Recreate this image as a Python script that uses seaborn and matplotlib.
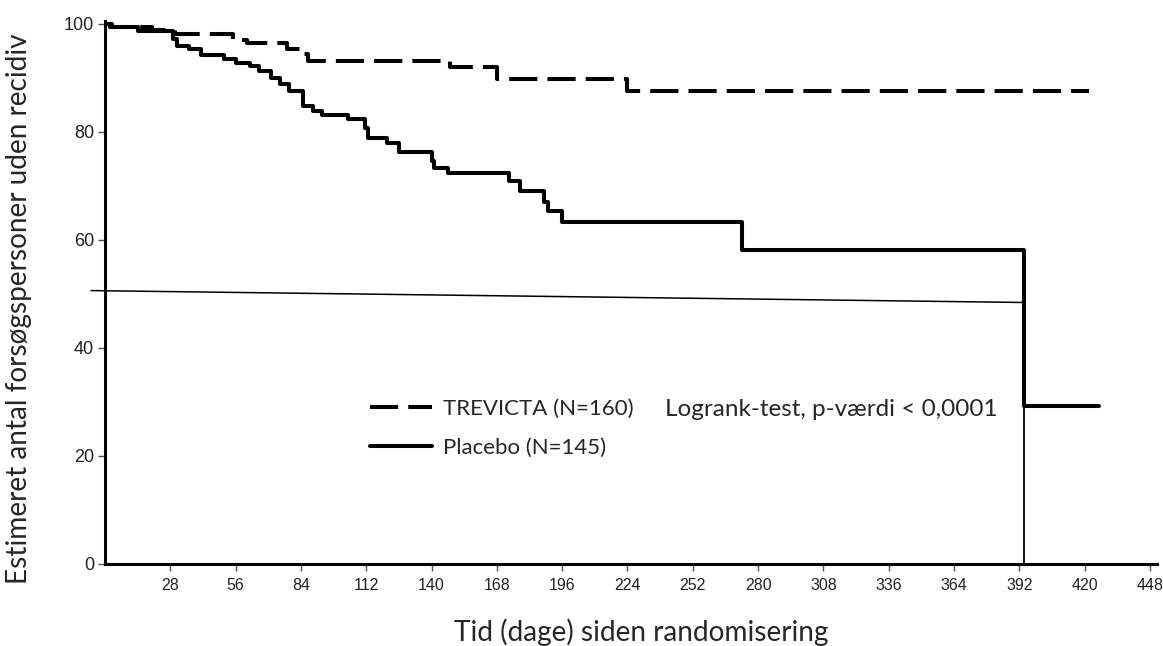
import pandas as pd
import seaborn as sns
import matplotlib.pyplot as plt
from matplotlib.lines import Line2D

# Kaplan-Meier step values
trevicta_days = [0, 2, 20, 30, 55, 61, 78, 84, 87, 148, 168, 224, 422]
trevicta_surv = [100, 99.4, 98.8, 98.1, 96.9, 96.5, 95.4, 94.4, 93.1, 91.9, 89.8, 87.6, 87.6]

placebo_days = [0, 3, 14, 29, 31, 36, 41, 51, 56, 62, 66, 71, 75, 79, 85, 89, 93, 104,
                111.4, 112.7, 121, 126, 140, 141, 147, 173, 178, 188, 190, 196, 273, 394, 426]
placebo_surv = [100, 99.4, 98.7, 97.2, 95.9, 95.4, 94.2, 93.5, 92.8, 92.2, 91.3, 90.0, 88.9,
                87.6, 84.8, 83.9, 83.1, 82.4, 80.7, 78.9, 78.0, 76.3, 74.6, 73.3, 72.4, 70.8,
                69.0, 67.0, 65.4, 63.3, 58.1, 29.2, 29.2]

# thin reference lines in the original
guide_x = [-6, 393.5]
guide_y = [50.6, 48.4]
drop_x = [394, 394]
drop_y = [0, 29.2]

x_ticks = list(range(28, 449, 28))
y_ticks = [0, 20, 40, 60, 80, 100]

arm_labels = ['TREVICTA (N=160)', 'Placebo (N=145)']

df = pd.concat([
    pd.DataFrame({'dag': trevicta_days, 'andel': trevicta_surv, 'arm': arm_labels[0]}),
    pd.DataFrame({'dag': placebo_days, 'andel': placebo_surv, 'arm': arm_labels[1]}),
])

sns.set_style('white')
plt.rcParams['font.family'] = ['Lato', 'DejaVu Sans']

fig = plt.figure(figsize=(11.63, 6.46), dpi=100)
ax = fig.add_axes([0.0903, 0.127, 0.9045, 0.8405])

dash = (7, 2.5)
dash_style = {arm_labels[0]: dash, arm_labels[1]: ''}
sns.lineplot(data=df, x='dag', y='andel', style='arm', dashes=dash_style,
             color='black', linewidth=2.9, drawstyle='steps-post',
             estimator=None, sort=False, legend=False, ax=ax)

ax.plot(guide_x, guide_y, color='black', linewidth=1.1, clip_on=False)
ax.plot(drop_x, drop_y, color='black', linewidth=1.3)

ax.set_xlim(0, 451)
ax.set_ylim(0, 100.5)
ax.set_xticks(x_ticks)
ax.set_yticks(y_ticks)
ax.set_xticklabels([str(t) for t in x_ticks], family=['Liberation Sans'], fontsize=11.5)
ax.set_yticklabels([str(t) for t in y_ticks], family=['Liberation Sans'], fontsize=13)
ax.tick_params(axis='both', direction='out', length=5, width=1, color='#555555',
               labelcolor='#222222', bottom=True, left=True)
ax.tick_params(axis='x', pad=5)
ax.tick_params(axis='y', pad=3)

sns.despine(ax=ax)
for side in ['left', 'bottom']:
    ax.spines[side].set_linewidth(2.2)
    ax.spines[side].set_color('black')

ax.set_xlabel('Tid (dage) siden randomisering', fontsize=20.2)
ax.set_ylabel('Estimeret antal forsøgspersoner uden recidiv', fontsize=20.2)
ax.xaxis.set_label_coords(0.51, -0.1)
ax.yaxis.set_label_coords(-0.069, 0.47)

handles = [Line2D([], [], color='black', linewidth=2.9, dashes=dash),
           Line2D([], [], color='black', linewidth=2.9)]
ax.legend(handles, arm_labels, loc='upper left', bbox_to_anchor=(370 / 1163, 1 - 399 / 646),
          bbox_transform=fig.transFigure, frameon=False, fontsize=16, handlelength=2.8,
          handletextpad=0.5, labelspacing=0.84, borderpad=0, borderaxespad=0)
fig.text(665 / 1163, 1 - 410 / 646, 'Logrank-test, p-værdi < 0,0001', fontsize=17.5,
         va='center', ha='left')

fig.savefig('out.png', dpi=100)
